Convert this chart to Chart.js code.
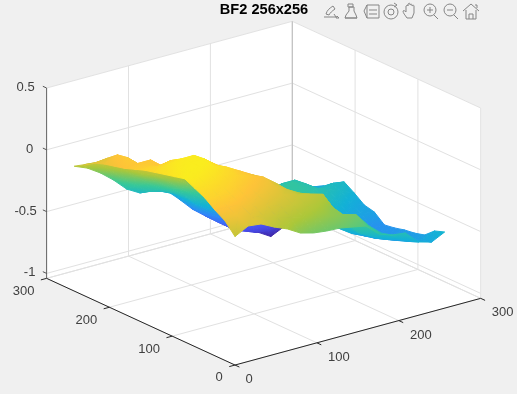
<!DOCTYPE html>
<html>
<head>
<meta charset="utf-8">
<title>BF2 256x256</title>
<script src="https://cdn.jsdelivr.net/npm/chart.js@4"></script>
<style>
  html,body{margin:0;padding:0;background:#f0f0f0;width:517px;height:394px;overflow:hidden}
  #wrap{position:relative;width:517px;height:394px}
  canvas{position:absolute;left:0;top:0}
  .tl{position:absolute;font:13px "Liberation Sans",Arial,sans-serif;color:#404040;line-height:14px;white-space:nowrap;transform:translate(-50%,-50%)}
  #tools{position:absolute;left:0;top:0}
  #tools *{fill:none;stroke:#858585;stroke-width:1}
</style>
</head>
<body>
<div id="wrap">
  <canvas id="surf" width="517" height="394"></canvas>
  <svg id="tools" width="517" height="24">
    <!-- barre d'outils -->
    <path d="M324 17h12l-2-3M326 14c1-4 4-6 7-8l2 3c-3 2-5 4-6 6zM337 16l2 2h-3z"/>
    <path d="M348 4h5v3h-5zM349 7v4l-3 4-1 3h12l-1-3-2-4V7zM345 18h12"/>
    <path d="M367 5h12v13h-12zM367 5l-3 6 3 7M369 10h8M369 14h8"/>
    <circle cx="391" cy="12" r="7"/><circle cx="391" cy="12" r="3"/><path d="M394 3l3 2-3 2"/>
    <path d="M407 18c-2-3-4-5-4-7 1-1 2 0 3 1V6c1-1 2-1 2 0V4c1-1 2-1 2 0v1c1-1 2-1 2 0v1c1-1 2-1 2 0v7l-2 5z"/>
    <circle cx="430" cy="10" r="6"/><path d="M434 15l4 4M427 10h6M430 7v6"/>
    <circle cx="450" cy="10" r="6"/><path d="M454 15l4 4M447 10h6"/>
    <path d="M463 11l8-7 8 7M466 10v9h10v-9M469 19v-5h4v5M475 5h2v3"/>
  </svg>
</div>
<script>
// axes
const xTicks = [0, 100, 200, 300];
const yTicks = [0, 100, 200, 300];
const zTicks = [-1, -0.5, 0, 0.5];
const zBottom = -1.04, zTop = 0.5, boxMax = 300;

// grille de la surface, pas de 16 (0..256)
const gridX = [0,16,32,48,64,80,96,112,128,144,160,176,192,208,224,240,256];
const gridY = [0,16,32,48,64,80,96,112,128,144,160,176,192,208,224,240,256];
// hauteurs, une ligne par valeur de Y
const heights = [
  [0,.056,.044,-.01,-.054,-.116,-.144,-.157,-.162,-.182,-.203,-.295,-.333,-.346,-.447,-.477,-.424],
  [.09,.1,.07,.03,0,-.03,-.06,-.08,-.1,-.12,-.15,-.27,-.36,-.42,-.48,-.5,-.453],
  [.14,.14,.12,.09,.06,.03,.01,-.02,-.05,-.1,-.25,-.36,-.42,-.47,-.51,-.53,-.523],
  [.2,.19,.17,.14,.11,.08,.05,.02,0,-.03,-.2,-.35,-.44,-.5,-.54,-.55,-.545],
  [.24,.23,.21,.18,.15,.12,.09,.03,-.03,-.12,-.28,-.4,-.47,-.52,-.55,-.57,-.557],
  [.28,.27,.25,.22,.19,.16,.12,.04,-.08,-.22,-.33,-.4,-.46,-.52,-.56,-.58,-.578],
  [.26,.28,.28,.26,.22,.16,.1,0,-.14,-.26,-.33,-.38,-.44,-.5,-.55,-.59,-.591],
  [.24,.27,.28,.28,.2,.12,.02,-.08,-.18,-.26,-.31,-.34,-.38,-.44,-.48,-.51,-.524],
  [.22,.25,.27,.27,.2,.05,-.05,-.14,-.2,-.26,-.29,-.3,-.31,-.36,-.42,-.47,-.505],
  [.2,.2,.22,.2,.1,-.02,-.1,-.18,-.24,-.28,-.3,-.29,-.29,-.32,-.36,-.4,-.445],
  [.17,.17,.145,.134,.04,-.1,-.17,-.24,-.3,-.33,-.33,-.3,-.28,-.32,-.39,-.38,-.393],
  [.14,.15,.15,.05,-.06,-.14,-.22,-.3,-.36,-.4,-.4,-.36,-.33,-.33,-.4,-.46,-.44],
  [.12,.16,.07,-.03,-.11,-.2,-.28,-.36,-.44,-.48,-.5,-.46,-.42,-.42,-.45,-.48,-.5],
  [.1,.145,.02,-.08,-.15,-.24,-.32,-.42,-.5,-.56,-.6,-.6,-.58,-.56,-.56,-.56,-.56],
  [.07,.08,-.02,-.12,-.2,-.28,-.34,-.42,-.52,-.6,-.68,-.72,-.74,-.74,-.74,-.72,-.7],
  [.02,.01,-.08,-.18,-.27,-.34,-.37,-.42,-.53,-.63,-.72,-.8,-.86,-.9,-.92,-.9,-.85],
  [-.03,-.074,-.142,-.228,-.33,-.39,-.4,-.425,-.526,-.635,-.72,-.8,-.86,-.9,-.966,-1.03,-.98]
];
const zMin = -1.03, zMax = 0.33;

const PARULA = [[62,38,168],[72,82,244],[46,135,247],[18,177,214],[55,200,151],[171,199,57],[254,195,56],[249,251,21]];

// vue de la boite 3D
function proj(x, y, z) {
  return { x: 235 + 0.819*x - 0.628*y, y: 236.5 - 0.2223*x - 0.289*y - 123.6*z };
}

function segment(a, b, color, width) {
  return { data: [proj(...a), proj(...b)], borderColor: color, borderWidth: width || 1, showLine: true, pointRadius: 0, fill: false };
}

const ctx = document.getElementById('surf').getContext('2d');
const datasets = [];

// fond blanc des 3 faces
datasets.push({
  data: [[0,boxMax,zTop],[boxMax,boxMax,zTop],[boxMax,0,zTop],[boxMax,0,zBottom],[0,0,zBottom],[0,boxMax,zBottom],[0,boxMax,zTop]].map(p => proj(...p)),
  backgroundColor: '#ffffff', borderWidth: 0, showLine: true, pointRadius: 0, fill: 'shape'
});

// grilles
const GRID = '#e1e1e1';
xTicks.forEach(t => {
  datasets.push(segment([t,0,zBottom],[t,boxMax,zBottom],GRID));
  datasets.push(segment([t,boxMax,zBottom],[t,boxMax,zTop],GRID));
});
yTicks.forEach(t => {
  datasets.push(segment([0,t,zBottom],[boxMax,t,zBottom],GRID));
  datasets.push(segment([boxMax,t,zBottom],[boxMax,t,zTop],GRID));
});
zTicks.forEach(t => {
  datasets.push(segment([0,boxMax,t],[boxMax,boxMax,t],GRID));
  datasets.push(segment([boxMax,boxMax,t],[boxMax,0,t],GRID));
});
datasets.push(segment([0,boxMax,zBottom],[boxMax,boxMax,zBottom],GRID));
datasets.push(segment([boxMax,boxMax,zBottom],[boxMax,0,zBottom],GRID));
datasets.push(segment([boxMax,boxMax,zBottom],[boxMax,boxMax,zTop],'#bdbdbd'));

function parulaAt(z) {
  const t = Math.max(0, Math.min(1, (z - zMin)/(zMax - zMin))) * (PARULA.length-1);
  const k = Math.min(Math.floor(t), PARULA.length-2), f = t - k;
  const c = PARULA[k].map((v,n) => Math.round(v + (PARULA[k+1][n]-v)*f));
  return `rgb(${c[0]},${c[1]},${c[2]})`;
}

// degrade exact d'un triangle : direction de la pente de z a l'ecran
function triGradient(tri) {
  const [a,b,c] = tri.map(p => Object.assign(proj(p.x, p.y, p.z), { z: p.z }));
  const det = (b.x-a.x)*(c.y-a.y) - (c.x-a.x)*(b.y-a.y);
  const lo = Math.min(a.z,b.z,c.z), hi = Math.max(a.z,b.z,c.z);
  if (Math.abs(det) < 0.5 || hi - lo < 0.002) return parulaAt((a.z+b.z+c.z)/3);
  const gx = ((b.z-a.z)*(c.y-a.y) - (c.z-a.z)*(b.y-a.y))/det;
  const gy = ((c.z-a.z)*(b.x-a.x) - (b.z-a.z)*(c.x-a.x))/det;
  const n = gx*gx + gy*gy;
  const g = ctx.createLinearGradient(a.x + gx*(lo-a.z)/n, a.y + gy*(lo-a.z)/n, a.x + gx*(hi-a.z)/n, a.y + gy*(hi-a.z)/n);
  for (let s = 0; s <= 6; s++) g.addColorStop(s/6, parulaAt(lo + (hi-lo)*s/6));
  return g;
}

// triangles de la surface, du fond vers l'avant
const tris = [];
for (let j = 0; j < gridY.length-1; j++) {
  for (let i = 0; i < gridX.length-1; i++) {
    const corner = (a,b) => ({ x: gridX[a], y: gridY[b], z: heights[b][a] });
    const A = corner(i,j), B = corner(i+1,j), C = corner(i+1,j+1), D = corner(i,j+1);
    [[A,B,C],[A,C,D]].forEach(t => {
      const depth = t.reduce((s,p) => s + 0.628*p.x + 0.819*p.y, 0);
      tris.push({ t, depth });
    });
  }
}
tris.sort((a,b) => b.depth - a.depth);
tris.forEach(({t}) => {
  const g = triGradient(t);
  const path = t.concat([t[0]]).map(p => proj(p.x, p.y, p.z));
  datasets.push({ data: path, backgroundColor: g, borderColor: g, borderWidth: 1, showLine: true, pointRadius: 0, fill: 'shape' });
});

// axes et graduations
const AXIS = '#262626';
datasets.push(segment([0,0,zBottom],[boxMax,0,zBottom],AXIS));
datasets.push(segment([0,0,zBottom],[0,boxMax,zBottom],AXIS));
datasets.push(segment([0,boxMax,zBottom],[0,boxMax,zTop],'#666666'));
xTicks.forEach(t => datasets.push(segment([t,0,zBottom],[t,-7,zBottom],AXIS)));
yTicks.forEach(t => datasets.push(segment([0,t,zBottom],[-7,t,zBottom],AXIS)));
zTicks.forEach(t => datasets.push(segment([0,boxMax,t],[0,boxMax+6,t],'#555555')));

// premier dessine = order le plus grand
datasets.forEach((d, n) => { d.order = datasets.length - n; });

new Chart(ctx, {
  type: 'scatter',
  data: { datasets },
  options: {
    responsive: false,
    animation: false,
    events: [],
    layout: { padding: { left: 11 } },
    plugins: {
      legend: { display: false },
      tooltip: { enabled: false },
      title: {
        display: true, text: 'BF2 256x256', fullSize: false, color: '#000000',
        font: { family: '"Liberation Sans", Arial, sans-serif', size: 14.6, weight: 'bold' },
        padding: { top: 1, bottom: 1.48 }
      }
    },
    scales: {
      x: { type: 'linear', min: 11, max: 517, display: false },
      y: { type: 'linear', min: 20, max: 394, reverse: true, display: false }
    }
  }
});

// libelles des graduations
const wrap = document.getElementById('wrap');
function label(text, x, y) {
  const s = document.createElement('span');
  s.className = 'tl'; s.textContent = text;
  s.style.left = x + 'px'; s.style.top = y + 'px';
  wrap.appendChild(s);
}
zTicks.forEach(t => { const p = proj(0, boxMax, t); label(String(t), p.x - 21 + (String(t).length > 2 ? 0 : 4), p.y - 1); });
xTicks.forEach(t => { const p = proj(t, 0, zBottom); label(String(t), p.x + 14 + (t > 0 ? 8 : 0), p.y + 14); });
yTicks.forEach(t => { const p = proj(0, t, zBottom); label(String(t), p.x - 16 - (t > 0 ? 7 : 0), p.y + 12 + (t > 0 ? 1 : 0)); });
</script>
</body>
</html>
